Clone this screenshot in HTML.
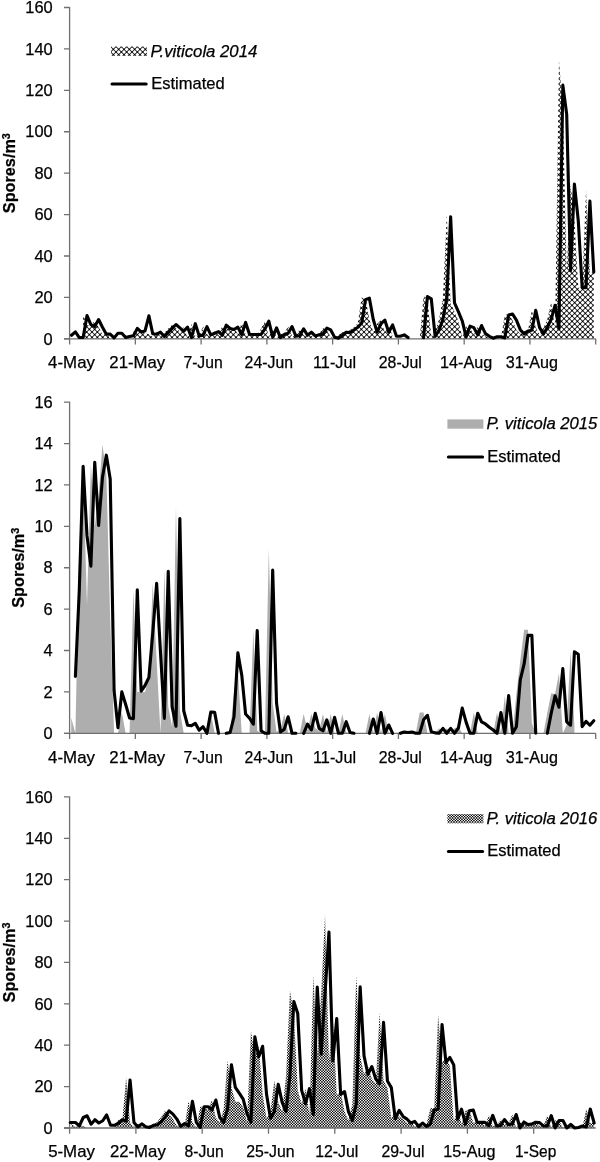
<!DOCTYPE html>
<html><head><meta charset="utf-8"><title>Spores</title>
<style>html,body{margin:0;padding:0;background:#fff}svg{display:block}text{font-family:"Liberation Sans",sans-serif;fill:#000;stroke:#000;stroke-width:0.25px}</style>
</head><body>
<svg width="600" height="1162" viewBox="0 0 600 1162">
<rect width="600" height="1162" fill="#fff"/>
<defs><pattern id="p1" width="16" height="16" patternUnits="userSpaceOnUse"><rect width="16" height="16" fill="#fff"/><rect x="0" y="0" width="1" height="1" fill="#373737"/><rect x="1" y="0" width="1" height="1" fill="#636363"/><rect x="2" y="0" width="1" height="1" fill="#545454"/><rect x="5" y="0" width="1" height="1" fill="#545454"/><rect x="6" y="0" width="1" height="1" fill="#636363"/><rect x="7" y="0" width="1" height="1" fill="#373737"/><rect x="8" y="0" width="1" height="1" fill="#dadada"/><rect x="10" y="0" width="1" height="1" fill="#959595"/><rect x="11" y="0" width="2" height="1" fill="#474747"/><rect x="13" y="0" width="1" height="1" fill="#959595"/><rect x="15" y="0" width="1" height="1" fill="#dadada"/><rect x="0" y="1" width="1" height="1" fill="#636363"/><rect x="1" y="1" width="1" height="1" fill="#000000"/><rect x="2" y="1" width="1" height="1" fill="#bebebe"/><rect x="5" y="1" width="1" height="1" fill="#bebebe"/><rect x="6" y="1" width="1" height="1" fill="#000000"/><rect x="7" y="1" width="1" height="1" fill="#636363"/><rect x="11" y="1" width="2" height="1" fill="#121212"/><rect x="0" y="2" width="1" height="1" fill="#545454"/><rect x="1" y="2" width="1" height="1" fill="#bebebe"/><rect x="2" y="2" width="1" height="1" fill="#3a3a3a"/><rect x="3" y="2" width="2" height="1" fill="#d9d9d9"/><rect x="5" y="2" width="1" height="1" fill="#3a3a3a"/><rect x="6" y="2" width="1" height="1" fill="#bebebe"/><rect x="7" y="2" width="1" height="1" fill="#545454"/><rect x="8" y="2" width="1" height="1" fill="#959595"/><rect x="10" y="2" width="1" height="1" fill="#555555"/><rect x="11" y="2" width="2" height="1" fill="#8f8f8f"/><rect x="13" y="2" width="1" height="1" fill="#555555"/><rect x="15" y="2" width="1" height="1" fill="#959595"/><rect x="2" y="3" width="1" height="1" fill="#d9d9d9"/><rect x="3" y="3" width="2" height="1" fill="#1e1e1e"/><rect x="5" y="3" width="1" height="1" fill="#d9d9d9"/><rect x="8" y="3" width="1" height="1" fill="#474747"/><rect x="9" y="3" width="1" height="1" fill="#121212"/><rect x="10" y="3" width="1" height="1" fill="#8f8f8f"/><rect x="13" y="3" width="1" height="1" fill="#8f8f8f"/><rect x="14" y="3" width="1" height="1" fill="#121212"/><rect x="15" y="3" width="1" height="1" fill="#474747"/><rect x="2" y="4" width="1" height="1" fill="#d9d9d9"/><rect x="3" y="4" width="2" height="1" fill="#1e1e1e"/><rect x="5" y="4" width="1" height="1" fill="#d9d9d9"/><rect x="8" y="4" width="1" height="1" fill="#474747"/><rect x="9" y="4" width="1" height="1" fill="#121212"/><rect x="10" y="4" width="1" height="1" fill="#8f8f8f"/><rect x="13" y="4" width="1" height="1" fill="#8f8f8f"/><rect x="14" y="4" width="1" height="1" fill="#121212"/><rect x="15" y="4" width="1" height="1" fill="#474747"/><rect x="0" y="5" width="1" height="1" fill="#545454"/><rect x="1" y="5" width="1" height="1" fill="#bebebe"/><rect x="2" y="5" width="1" height="1" fill="#3a3a3a"/><rect x="3" y="5" width="2" height="1" fill="#d9d9d9"/><rect x="5" y="5" width="1" height="1" fill="#3a3a3a"/><rect x="6" y="5" width="1" height="1" fill="#bebebe"/><rect x="7" y="5" width="1" height="1" fill="#545454"/><rect x="8" y="5" width="1" height="1" fill="#959595"/><rect x="10" y="5" width="1" height="1" fill="#555555"/><rect x="11" y="5" width="2" height="1" fill="#8f8f8f"/><rect x="13" y="5" width="1" height="1" fill="#555555"/><rect x="15" y="5" width="1" height="1" fill="#959595"/><rect x="0" y="6" width="1" height="1" fill="#636363"/><rect x="1" y="6" width="1" height="1" fill="#000000"/><rect x="2" y="6" width="1" height="1" fill="#bebebe"/><rect x="5" y="6" width="1" height="1" fill="#bebebe"/><rect x="6" y="6" width="1" height="1" fill="#000000"/><rect x="7" y="6" width="1" height="1" fill="#636363"/><rect x="11" y="6" width="2" height="1" fill="#121212"/><rect x="0" y="7" width="1" height="1" fill="#373737"/><rect x="1" y="7" width="1" height="1" fill="#636363"/><rect x="2" y="7" width="1" height="1" fill="#545454"/><rect x="5" y="7" width="1" height="1" fill="#545454"/><rect x="6" y="7" width="1" height="1" fill="#636363"/><rect x="7" y="7" width="1" height="1" fill="#373737"/><rect x="8" y="7" width="1" height="1" fill="#dadada"/><rect x="10" y="7" width="1" height="1" fill="#959595"/><rect x="11" y="7" width="2" height="1" fill="#474747"/><rect x="13" y="7" width="1" height="1" fill="#959595"/><rect x="15" y="7" width="1" height="1" fill="#dadada"/><rect x="0" y="8" width="1" height="1" fill="#dadada"/><rect x="2" y="8" width="1" height="1" fill="#959595"/><rect x="3" y="8" width="2" height="1" fill="#474747"/><rect x="5" y="8" width="1" height="1" fill="#959595"/><rect x="7" y="8" width="1" height="1" fill="#dadada"/><rect x="8" y="8" width="1" height="1" fill="#373737"/><rect x="9" y="8" width="1" height="1" fill="#636363"/><rect x="10" y="8" width="1" height="1" fill="#545454"/><rect x="13" y="8" width="1" height="1" fill="#545454"/><rect x="14" y="8" width="1" height="1" fill="#636363"/><rect x="15" y="8" width="1" height="1" fill="#373737"/><rect x="3" y="9" width="2" height="1" fill="#121212"/><rect x="8" y="9" width="1" height="1" fill="#636363"/><rect x="9" y="9" width="1" height="1" fill="#000000"/><rect x="10" y="9" width="1" height="1" fill="#bebebe"/><rect x="13" y="9" width="1" height="1" fill="#bebebe"/><rect x="14" y="9" width="1" height="1" fill="#000000"/><rect x="15" y="9" width="1" height="1" fill="#636363"/><rect x="0" y="10" width="1" height="1" fill="#959595"/><rect x="2" y="10" width="1" height="1" fill="#555555"/><rect x="3" y="10" width="2" height="1" fill="#8f8f8f"/><rect x="5" y="10" width="1" height="1" fill="#555555"/><rect x="7" y="10" width="1" height="1" fill="#959595"/><rect x="8" y="10" width="1" height="1" fill="#545454"/><rect x="9" y="10" width="1" height="1" fill="#bebebe"/><rect x="10" y="10" width="1" height="1" fill="#3a3a3a"/><rect x="11" y="10" width="2" height="1" fill="#d9d9d9"/><rect x="13" y="10" width="1" height="1" fill="#3a3a3a"/><rect x="14" y="10" width="1" height="1" fill="#bebebe"/><rect x="15" y="10" width="1" height="1" fill="#545454"/><rect x="0" y="11" width="1" height="1" fill="#474747"/><rect x="1" y="11" width="1" height="1" fill="#121212"/><rect x="2" y="11" width="1" height="1" fill="#8f8f8f"/><rect x="5" y="11" width="1" height="1" fill="#8f8f8f"/><rect x="6" y="11" width="1" height="1" fill="#121212"/><rect x="7" y="11" width="1" height="1" fill="#474747"/><rect x="10" y="11" width="1" height="1" fill="#d9d9d9"/><rect x="11" y="11" width="2" height="1" fill="#1e1e1e"/><rect x="13" y="11" width="1" height="1" fill="#d9d9d9"/><rect x="0" y="12" width="1" height="1" fill="#474747"/><rect x="1" y="12" width="1" height="1" fill="#121212"/><rect x="2" y="12" width="1" height="1" fill="#8f8f8f"/><rect x="5" y="12" width="1" height="1" fill="#8f8f8f"/><rect x="6" y="12" width="1" height="1" fill="#121212"/><rect x="7" y="12" width="1" height="1" fill="#474747"/><rect x="10" y="12" width="1" height="1" fill="#d9d9d9"/><rect x="11" y="12" width="2" height="1" fill="#1e1e1e"/><rect x="13" y="12" width="1" height="1" fill="#d9d9d9"/><rect x="0" y="13" width="1" height="1" fill="#959595"/><rect x="2" y="13" width="1" height="1" fill="#555555"/><rect x="3" y="13" width="2" height="1" fill="#8f8f8f"/><rect x="5" y="13" width="1" height="1" fill="#555555"/><rect x="7" y="13" width="1" height="1" fill="#959595"/><rect x="8" y="13" width="1" height="1" fill="#545454"/><rect x="9" y="13" width="1" height="1" fill="#bebebe"/><rect x="10" y="13" width="1" height="1" fill="#3a3a3a"/><rect x="11" y="13" width="2" height="1" fill="#d9d9d9"/><rect x="13" y="13" width="1" height="1" fill="#3a3a3a"/><rect x="14" y="13" width="1" height="1" fill="#bebebe"/><rect x="15" y="13" width="1" height="1" fill="#545454"/><rect x="3" y="14" width="2" height="1" fill="#121212"/><rect x="8" y="14" width="1" height="1" fill="#636363"/><rect x="9" y="14" width="1" height="1" fill="#000000"/><rect x="10" y="14" width="1" height="1" fill="#bebebe"/><rect x="13" y="14" width="1" height="1" fill="#bebebe"/><rect x="14" y="14" width="1" height="1" fill="#000000"/><rect x="15" y="14" width="1" height="1" fill="#636363"/><rect x="0" y="15" width="1" height="1" fill="#dadada"/><rect x="2" y="15" width="1" height="1" fill="#959595"/><rect x="3" y="15" width="2" height="1" fill="#474747"/><rect x="5" y="15" width="1" height="1" fill="#959595"/><rect x="7" y="15" width="1" height="1" fill="#dadada"/><rect x="8" y="15" width="1" height="1" fill="#373737"/><rect x="9" y="15" width="1" height="1" fill="#636363"/><rect x="10" y="15" width="1" height="1" fill="#545454"/><rect x="13" y="15" width="1" height="1" fill="#545454"/><rect x="14" y="15" width="1" height="1" fill="#636363"/><rect x="15" y="15" width="1" height="1" fill="#373737"/></pattern><pattern id="p3" width="8" height="8" patternUnits="userSpaceOnUse"><rect x="0" y="0" width="1" height="1" fill="#000000"/><rect x="1" y="0" width="1" height="1" fill="#cecece"/><rect x="2" y="0" width="1" height="1" fill="#bababa"/><rect x="3" y="0" width="1" height="1" fill="#000000"/><rect x="4" y="0" width="1" height="1" fill="#ffffff"/><rect x="5" y="0" width="1" height="1" fill="#313131"/><rect x="6" y="0" width="1" height="1" fill="#454545"/><rect x="7" y="0" width="1" height="1" fill="#ffffff"/><rect x="0" y="1" width="1" height="1" fill="#cecece"/><rect x="1" y="1" width="1" height="1" fill="#525252"/><rect x="2" y="1" width="1" height="1" fill="#5d5d5d"/><rect x="3" y="1" width="1" height="1" fill="#cacaca"/><rect x="4" y="1" width="1" height="1" fill="#313131"/><rect x="5" y="1" width="1" height="1" fill="#adadad"/><rect x="6" y="1" width="1" height="1" fill="#a2a2a2"/><rect x="7" y="1" width="1" height="1" fill="#353535"/><rect x="0" y="2" width="1" height="1" fill="#bababa"/><rect x="1" y="2" width="1" height="1" fill="#5d5d5d"/><rect x="2" y="2" width="1" height="1" fill="#666666"/><rect x="3" y="2" width="1" height="1" fill="#b7b7b7"/><rect x="4" y="2" width="1" height="1" fill="#454545"/><rect x="5" y="2" width="1" height="1" fill="#a2a2a2"/><rect x="6" y="2" width="1" height="1" fill="#999999"/><rect x="7" y="2" width="1" height="1" fill="#484848"/><rect x="0" y="3" width="1" height="1" fill="#000000"/><rect x="1" y="3" width="1" height="1" fill="#cacaca"/><rect x="2" y="3" width="1" height="1" fill="#b7b7b7"/><rect x="3" y="3" width="1" height="1" fill="#040404"/><rect x="4" y="3" width="1" height="1" fill="#ffffff"/><rect x="5" y="3" width="1" height="1" fill="#353535"/><rect x="6" y="3" width="1" height="1" fill="#484848"/><rect x="7" y="3" width="1" height="1" fill="#fbfbfb"/><rect x="0" y="4" width="1" height="1" fill="#ffffff"/><rect x="1" y="4" width="1" height="1" fill="#313131"/><rect x="2" y="4" width="1" height="1" fill="#454545"/><rect x="3" y="4" width="1" height="1" fill="#ffffff"/><rect x="4" y="4" width="1" height="1" fill="#000000"/><rect x="5" y="4" width="1" height="1" fill="#cecece"/><rect x="6" y="4" width="1" height="1" fill="#bababa"/><rect x="7" y="4" width="1" height="1" fill="#000000"/><rect x="0" y="5" width="1" height="1" fill="#313131"/><rect x="1" y="5" width="1" height="1" fill="#adadad"/><rect x="2" y="5" width="1" height="1" fill="#a2a2a2"/><rect x="3" y="5" width="1" height="1" fill="#353535"/><rect x="4" y="5" width="1" height="1" fill="#cecece"/><rect x="5" y="5" width="1" height="1" fill="#525252"/><rect x="6" y="5" width="1" height="1" fill="#5d5d5d"/><rect x="7" y="5" width="1" height="1" fill="#cacaca"/><rect x="0" y="6" width="1" height="1" fill="#454545"/><rect x="1" y="6" width="1" height="1" fill="#a2a2a2"/><rect x="2" y="6" width="1" height="1" fill="#999999"/><rect x="3" y="6" width="1" height="1" fill="#484848"/><rect x="4" y="6" width="1" height="1" fill="#bababa"/><rect x="5" y="6" width="1" height="1" fill="#5d5d5d"/><rect x="6" y="6" width="1" height="1" fill="#666666"/><rect x="7" y="6" width="1" height="1" fill="#b7b7b7"/><rect x="0" y="7" width="1" height="1" fill="#ffffff"/><rect x="1" y="7" width="1" height="1" fill="#353535"/><rect x="2" y="7" width="1" height="1" fill="#484848"/><rect x="3" y="7" width="1" height="1" fill="#fbfbfb"/><rect x="4" y="7" width="1" height="1" fill="#000000"/><rect x="5" y="7" width="1" height="1" fill="#cacaca"/><rect x="6" y="7" width="1" height="1" fill="#b7b7b7"/><rect x="7" y="7" width="1" height="1" fill="#040404"/></pattern></defs>
<polygon points="83.14,338.80 83.14,315.19 87.01,324.51 90.88,326.58 94.74,319.75 98.61,327.20 102.48,334.14 106.35,334.14 110.22,337.87 110.22,338.80" fill="url(#p1)"/>
<polygon points="133.43,338.80 133.43,331.14 137.30,331.97 141.17,330.93 145.03,333.62 148.90,334.24 152.77,336.73 156.64,332.17 160.51,336.52 164.38,332.59 168.24,328.45 172.11,324.51 175.98,327.83 179.85,331.14 183.72,327.20 187.59,337.56 191.45,323.68 195.32,335.90 199.19,335.28 203.06,326.58 206.93,334.87 210.80,333.21 214.66,331.55 218.53,335.28 222.40,325.13 226.27,328.45 230.14,329.48 234.01,327.20 237.87,334.45 241.74,322.44 245.61,334.24 249.48,334.45 253.35,334.45 257.22,334.45 261.08,328.86 264.95,321.20 268.82,337.14 272.69,327.83 276.56,337.56 280.43,334.45 284.30,333.21 288.16,326.58 292.03,336.11 295.90,335.69 299.77,328.86 303.64,335.28 307.51,332.17 311.37,335.90 315.24,334.87 319.11,334.24 322.98,328.03 326.85,329.90 330.72,337.14 334.58,338.18 338.45,335.28 342.32,332.17 346.19,332.59 350.06,329.90 353.93,327.20 357.79,323.27 361.66,297.59 365.53,298.22 369.40,319.54 373.27,332.17 377.14,323.68 381.00,320.16 384.87,332.17 388.74,324.93 392.61,336.32 392.61,338.80" fill="url(#p1)"/>
<polygon points="419.69,338.80 419.69,338.80 423.56,296.35 427.43,298.84 431.29,336.32 435.16,330.31 439.03,319.54 442.90,298.22 446.77,214.56 450.64,302.98 454.50,311.67 458.37,320.99 462.24,336.94 466.11,326.17 469.98,327.62 473.85,334.87 477.71,325.55 481.58,333.62 485.45,336.32 489.32,338.18 493.19,336.73 497.06,336.73 500.92,337.97 504.79,314.99 508.66,313.95 512.53,320.16 516.40,329.69 520.27,334.04 524.13,330.93 528.00,330.31 531.87,310.23 535.74,327.62 539.61,334.04 543.48,327.41 547.35,319.13 551.21,301.94 555.08,328.86 558.95,60.30 562.82,108.96 566.69,270.68 570.56,184.12 574.42,220.77 578.29,287.66 582.16,287.66 586.03,189.72 589.90,272.54 593.77,272.54 593.77,338.80" fill="url(#p1)"/>
<path d="M69.60 7.00 V344.60 M64.00 338.80 H595.70" stroke="#707070" stroke-width="1.3" fill="none"/>
<text x="52.7" y="344.50" text-anchor="end" font-size="16.1" textLength="9.1" lengthAdjust="spacingAndGlyphs">0</text>
<text x="52.7" y="303.09" text-anchor="end" font-size="16.1" textLength="18.3" lengthAdjust="spacingAndGlyphs">20</text>
<text x="52.7" y="261.68" text-anchor="end" font-size="16.1" textLength="18.3" lengthAdjust="spacingAndGlyphs">40</text>
<text x="52.7" y="220.26" text-anchor="end" font-size="16.1" textLength="18.3" lengthAdjust="spacingAndGlyphs">60</text>
<text x="52.7" y="178.85" text-anchor="end" font-size="16.1" textLength="18.3" lengthAdjust="spacingAndGlyphs">80</text>
<text x="52.7" y="137.44" text-anchor="end" font-size="16.1" textLength="27.4" lengthAdjust="spacingAndGlyphs">100</text>
<text x="52.7" y="96.02" text-anchor="end" font-size="16.1" textLength="27.4" lengthAdjust="spacingAndGlyphs">120</text>
<text x="52.7" y="54.61" text-anchor="end" font-size="16.1" textLength="27.4" lengthAdjust="spacingAndGlyphs">140</text>
<text x="52.7" y="13.20" text-anchor="end" font-size="16.1" textLength="27.4" lengthAdjust="spacingAndGlyphs">160</text>
<path d="M64.00 338.80H69.60M64.00 297.39H69.60M64.00 255.98H69.60M64.00 214.56H69.60M64.00 173.15H69.60M64.00 131.74H69.60M64.00 90.32H69.60M64.00 48.91H69.60M64.00 7.50H69.60M135.36 338.80V344.60M201.12 338.80V344.60M266.89 338.80V344.60M332.65 338.80V344.60M398.41 338.80V344.60M464.18 338.80V344.60M529.94 338.80V344.60M595.70 338.80V344.60" stroke="#707070" stroke-width="1.3" fill="none"/>
<text x="71.53" y="368.10" text-anchor="middle" font-size="16.1" textLength="46.8" lengthAdjust="spacingAndGlyphs">4-May</text>
<text x="137.30" y="368.10" text-anchor="middle" font-size="16.1" textLength="55.9" lengthAdjust="spacingAndGlyphs">21-May</text>
<text x="203.06" y="368.10" text-anchor="middle" font-size="16.1" textLength="39.3" lengthAdjust="spacingAndGlyphs">7-Jun</text>
<text x="268.82" y="368.10" text-anchor="middle" font-size="16.1" textLength="48.4" lengthAdjust="spacingAndGlyphs">24-Jun</text>
<text x="334.58" y="368.10" text-anchor="middle" font-size="16.1" textLength="43.1" lengthAdjust="spacingAndGlyphs">11-Jul</text>
<text x="400.35" y="368.10" text-anchor="middle" font-size="16.1" textLength="43.1" lengthAdjust="spacingAndGlyphs">28-Jul</text>
<text x="466.11" y="368.10" text-anchor="middle" font-size="16.1" textLength="52.1" lengthAdjust="spacingAndGlyphs">14-Aug</text>
<text x="531.87" y="368.10" text-anchor="middle" font-size="16.1" textLength="52.1" lengthAdjust="spacingAndGlyphs">31-Aug</text>
<path d="M71.53 335.28L75.40 331.86L79.27 337.56L83.14 337.56L87.01 315.61L90.88 324.51L94.74 326.58L98.61 319.54L102.48 327.20L106.35 334.14L110.22 334.14L114.09 337.87L117.95 333.21L121.82 333.21L125.69 337.56L129.56 336.52L133.43 335.69L137.30 328.45L141.17 331.97L145.03 330.93L148.90 315.82L152.77 333.83L156.64 334.24L160.51 332.17L164.38 336.52L168.24 332.59L172.11 328.45L175.98 324.51L179.85 327.83L183.72 331.14L187.59 327.20L191.45 337.56L195.32 323.68L199.19 335.90L203.06 335.28L206.93 326.58L210.80 334.87L214.66 333.21L218.53 331.55L222.40 335.28L226.27 325.13L230.14 328.45L234.01 329.48L237.87 327.20L241.74 334.45L245.61 322.44L249.48 334.24L253.35 334.45L257.22 334.45L261.08 334.45L264.95 328.86L268.82 321.20L272.69 337.14L276.56 327.83L280.43 337.56L284.30 334.45L288.16 333.21L292.03 326.58L295.90 336.11L299.77 335.69L303.64 328.86L307.51 335.28L311.37 332.17L315.24 335.90L319.11 334.87L322.98 334.24L326.85 328.03L330.72 329.90L334.58 337.14L338.45 338.18L342.32 335.28L346.19 332.17L350.06 332.59L353.93 329.90L357.79 327.20L361.66 323.27L365.53 299.67L369.40 298.22L373.27 319.54L377.14 332.17L381.00 323.68L384.87 320.16L388.74 332.17L392.61 324.93L396.48 336.32L400.35 336.32L404.22 334.87L408.08 337.56M423.56 337.76L427.43 296.56L431.29 298.84L435.16 336.32L439.03 330.31L442.90 319.54L446.77 298.22L450.64 216.84L454.50 302.98L458.37 311.67L462.24 320.99L466.11 336.94L469.98 326.17L473.85 327.62L477.71 334.87L481.58 325.55L485.45 333.62L489.32 336.32L493.19 338.18L497.06 336.73L500.92 336.73L504.79 337.97L508.66 314.99L512.53 313.95L516.40 320.16L520.27 329.69L524.13 334.04L528.00 330.93L531.87 330.31L535.74 310.23L539.61 327.62L543.48 334.04L547.35 327.41L551.21 319.13L555.08 305.26L558.95 328.86L562.82 85.15L566.69 114.14L570.56 270.68L574.42 184.12L578.29 220.77L582.16 287.66L586.03 287.66L589.90 201.10L593.77 272.13" stroke="#000" stroke-width="3.1" fill="none" stroke-linejoin="round" stroke-linecap="round"/>
<text transform="translate(15.2 173.15) rotate(-90)" text-anchor="middle" font-weight="bold" stroke="none" font-size="16.6" textLength="80" lengthAdjust="spacingAndGlyphs">Spores/m<tspan font-size="11" dy="-5.5">3</tspan></text>
<rect x="111.00" y="46.60" width="36" height="9.3" fill="url(#p1)"/>
<text x="150.60" y="56.60" font-style="italic" font-size="16.1" textLength="106.7" lengthAdjust="spacingAndGlyphs">P.viticola 2014</text>
<path d="M112.00 84.10H146.20" stroke="#000" stroke-width="3.0" stroke-linecap="round"/>
<text x="151.20" y="88.90" font-size="16.1" textLength="73.4" lengthAdjust="spacingAndGlyphs">Estimated</text>
<polygon points="71.20,733.30 71.20,717.78 75.40,733.30 79.27,547.06 83.14,472.56 87.01,605.00 90.88,464.28 94.74,526.36 98.61,495.32 102.48,444.62 106.35,474.63 110.22,619.48 114.09,733.30 117.95,733.30 121.82,712.61 125.69,733.30 129.56,733.30 133.43,589.89 137.30,691.91 141.17,691.91 145.03,691.91 148.90,677.43 152.77,583.27 156.64,660.87 160.51,733.30 164.38,569.82 168.24,706.40 172.11,727.09 175.98,506.08 179.85,710.54 183.72,733.30 187.59,733.30 191.45,733.30 195.32,733.30 199.19,733.30 203.06,733.30 206.93,733.30 210.80,712.40 214.66,733.30 218.53,733.30 222.40,733.30 226.27,732.47 230.14,733.30 234.01,691.91 237.87,671.22 241.74,733.30 245.61,733.30 249.48,733.30 253.35,630.66 257.22,730.82 261.08,733.30 264.95,733.30 268.82,547.88 272.69,703.29 276.56,732.06 280.43,729.16 284.30,714.05 288.16,733.30 292.03,733.30 295.90,733.30 299.77,733.30 303.64,714.05 307.51,729.99 311.37,713.64 315.24,728.33 319.11,730.82 322.98,714.05 326.85,733.30 330.72,714.05 334.58,733.30 338.45,733.30 342.32,714.05 346.19,732.47 350.06,733.30 353.93,733.30 357.79,733.30 361.66,733.30 365.53,733.30 369.40,714.05 373.27,733.30 377.14,712.61 381.00,733.30 384.87,714.05 388.74,733.30 392.61,733.30 396.48,733.30 400.35,732.06 404.22,732.47 408.08,732.06 411.95,733.30 415.82,733.30 419.69,712.61 423.56,712.61 427.43,733.30 431.29,732.89 435.16,733.30 439.03,728.33 442.90,733.30 446.77,728.33 450.64,733.30 454.50,728.13 458.37,727.09 462.24,733.30 466.11,733.30 469.98,733.30 473.85,712.61 477.71,733.30 481.58,733.30 485.45,733.30 489.32,733.30 493.19,733.30 497.06,712.61 500.92,733.30 504.79,695.64 508.66,733.30 512.53,733.30 516.40,693.98 520.27,660.87 524.13,629.83 528.00,629.83 531.87,722.95 535.74,733.30 539.61,733.30 543.48,733.30 547.35,712.61 551.21,693.15 555.08,693.98 558.95,673.29 562.82,733.30 566.69,725.02 570.56,651.56 574.42,727.09 574.42,733.30" fill="#aeaeae"/>
<path d="M69.60 401.70 V739.10 M64.00 733.30 H595.70" stroke="#707070" stroke-width="1.3" fill="none"/>
<text x="52.7" y="739.00" text-anchor="end" font-size="16.1" textLength="9.1" lengthAdjust="spacingAndGlyphs">0</text>
<text x="52.7" y="697.61" text-anchor="end" font-size="16.1" textLength="9.1" lengthAdjust="spacingAndGlyphs">2</text>
<text x="52.7" y="656.23" text-anchor="end" font-size="16.1" textLength="9.1" lengthAdjust="spacingAndGlyphs">4</text>
<text x="52.7" y="614.84" text-anchor="end" font-size="16.1" textLength="9.1" lengthAdjust="spacingAndGlyphs">6</text>
<text x="52.7" y="573.45" text-anchor="end" font-size="16.1" textLength="9.1" lengthAdjust="spacingAndGlyphs">8</text>
<text x="52.7" y="532.06" text-anchor="end" font-size="16.1" textLength="18.3" lengthAdjust="spacingAndGlyphs">10</text>
<text x="52.7" y="490.67" text-anchor="end" font-size="16.1" textLength="18.3" lengthAdjust="spacingAndGlyphs">12</text>
<text x="52.7" y="449.29" text-anchor="end" font-size="16.1" textLength="18.3" lengthAdjust="spacingAndGlyphs">14</text>
<text x="52.7" y="407.90" text-anchor="end" font-size="16.1" textLength="18.3" lengthAdjust="spacingAndGlyphs">16</text>
<path d="M64.00 733.30H69.60M64.00 691.91H69.60M64.00 650.52H69.60M64.00 609.14H69.60M64.00 567.75H69.60M64.00 526.36H69.60M64.00 484.97H69.60M64.00 443.59H69.60M64.00 402.20H69.60M135.36 733.30V739.10M201.12 733.30V739.10M266.89 733.30V739.10M332.65 733.30V739.10M398.41 733.30V739.10M464.18 733.30V739.10M529.94 733.30V739.10M595.70 733.30V739.10" stroke="#707070" stroke-width="1.3" fill="none"/>
<text x="71.53" y="762.60" text-anchor="middle" font-size="16.1" textLength="46.8" lengthAdjust="spacingAndGlyphs">4-May</text>
<text x="137.30" y="762.60" text-anchor="middle" font-size="16.1" textLength="55.9" lengthAdjust="spacingAndGlyphs">21-May</text>
<text x="203.06" y="762.60" text-anchor="middle" font-size="16.1" textLength="39.3" lengthAdjust="spacingAndGlyphs">7-Jun</text>
<text x="268.82" y="762.60" text-anchor="middle" font-size="16.1" textLength="48.4" lengthAdjust="spacingAndGlyphs">24-Jun</text>
<text x="334.58" y="762.60" text-anchor="middle" font-size="16.1" textLength="43.1" lengthAdjust="spacingAndGlyphs">11-Jul</text>
<text x="400.35" y="762.60" text-anchor="middle" font-size="16.1" textLength="43.1" lengthAdjust="spacingAndGlyphs">28-Jul</text>
<text x="466.11" y="762.60" text-anchor="middle" font-size="16.1" textLength="52.1" lengthAdjust="spacingAndGlyphs">14-Aug</text>
<text x="531.87" y="762.60" text-anchor="middle" font-size="16.1" textLength="52.1" lengthAdjust="spacingAndGlyphs">31-Aug</text>
<path d="M75.40 676.39L79.27 590.51L83.14 466.35L87.01 535.88L90.88 566.09L94.74 462.21L98.61 525.53L102.48 477.32L106.35 455.18L110.22 478.97L114.09 690.67L117.95 727.71L121.82 691.91L125.69 704.54L129.56 717.99L133.43 718.61L137.30 589.89L141.17 691.08L145.03 685.50L148.90 677.43L152.77 632.94L156.64 583.27L160.51 652.59L164.38 718.40L168.24 571.27L172.11 706.61L175.98 726.26L179.85 518.50L183.72 710.74L187.59 725.23L191.45 725.64L195.32 723.37L199.19 730.20L203.06 726.68L206.93 733.30L210.80 711.99L214.66 712.40L218.53 733.30M226.27 733.30L230.14 732.47L234.01 716.75L237.87 652.80L241.74 674.94L245.61 714.05L249.48 718.19L253.35 724.19L257.22 630.66L261.08 730.82L264.95 733.30L268.82 733.30L272.69 570.03L276.56 703.29L280.43 732.06L284.30 729.16L288.16 716.75L292.03 733.30L295.90 733.30M303.64 733.30L307.51 724.19L311.37 729.99L315.24 713.23L319.11 728.33L322.98 730.82L326.85 719.85L330.72 733.30L334.58 717.37L338.45 733.30L342.32 733.30L346.19 721.71L350.06 732.47L353.93 733.30M369.40 733.30L373.27 719.02L377.14 733.30L381.00 712.61L384.87 733.30L388.74 725.02L392.61 733.30M400.35 733.30L404.22 732.06L408.08 732.47L411.95 732.06L415.82 733.30L419.69 733.30L423.56 719.85L427.43 715.30L431.29 731.64L435.16 732.89L439.03 733.30L442.90 728.33L446.77 733.30L450.64 728.33L454.50 733.30L458.37 728.13L462.24 708.05L466.11 722.13L469.98 733.30L473.85 733.30L477.71 713.23L481.58 721.92L485.45 723.99L489.32 727.30L493.19 729.99L497.06 733.30L500.92 712.61L504.79 733.30L508.66 695.64L512.53 733.30L516.40 726.68L520.27 679.91L524.13 663.98L528.00 635.42L531.87 635.42L535.74 733.30M547.35 733.30L551.21 713.23L555.08 695.84L558.95 707.23L562.82 668.53L566.69 721.92L570.56 725.23L574.42 651.77L578.29 654.25L582.16 726.68L586.03 721.30L589.90 725.23L593.77 720.68" stroke="#000" stroke-width="3.1" fill="none" stroke-linejoin="round" stroke-linecap="round"/>
<text transform="translate(24.3 567.75) rotate(-90)" text-anchor="middle" font-weight="bold" stroke="none" font-size="16.6" textLength="80" lengthAdjust="spacingAndGlyphs">Spores/m<tspan font-size="11" dy="-5.5">3</tspan></text>
<rect x="447.40" y="419.40" width="36" height="9.3" fill="#aeaeae"/>
<text x="486.60" y="429.40" font-style="italic" font-size="16.1" textLength="110.7" lengthAdjust="spacingAndGlyphs">P. viticola 2015</text>
<path d="M448.40 456.90H482.60" stroke="#000" stroke-width="3.0" stroke-linecap="round"/>
<text x="487.20" y="461.70" font-size="16.1" textLength="73.4" lengthAdjust="spacingAndGlyphs">Estimated</text>
<polygon points="71.55,1128.00 71.55,1123.86 75.45,1126.97 79.35,1124.90 83.25,1125.93 87.15,1128.00 91.05,1128.00 94.95,1128.00 98.85,1128.00 102.75,1128.00 106.65,1128.00 110.55,1128.00 114.45,1128.00 118.35,1119.72 122.25,1121.17 126.15,1077.51 130.05,1122.41 133.95,1126.97 137.85,1123.86 141.75,1126.65 145.65,1127.48 149.55,1125.31 153.45,1124.69 157.35,1121.67 161.25,1117.03 165.15,1110.82 169.05,1114.14 172.95,1119.10 176.85,1126.34 180.75,1123.65 184.65,1125.83 188.55,1100.89 192.45,1122.41 196.35,1127.48 200.25,1106.69 204.15,1106.69 208.05,1110.00 211.95,1100.06 215.85,1117.45 219.75,1122.41 223.65,1109.17 227.55,1060.75 231.45,1087.44 235.35,1101.72 239.25,1101.72 243.15,1107.31 247.05,1121.79 250.95,1030.95 254.85,1056.81 258.75,1046.26 262.65,1094.27 266.55,1118.27 270.45,1111.65 274.35,1080.40 278.25,1102.34 282.15,1111.65 286.05,1075.64 289.95,990.80 293.85,1013.56 297.75,1090.34 301.65,1103.58 305.55,1088.68 309.45,1114.55 313.35,975.28 317.25,1054.12 321.15,993.49 325.05,914.85 328.95,1060.75 332.85,1018.53 336.75,1094.89 340.65,1091.58 344.55,1111.65 348.45,1120.34 352.35,1104.00 356.25,975.28 360.15,1055.99 364.05,1074.20 367.95,1066.54 371.85,1078.96 375.75,1083.72 379.65,1012.74 383.55,1081.03 387.45,1087.65 391.35,1118.48 395.25,1110.41 399.15,1116.41 403.05,1119.10 406.95,1123.03 410.85,1121.38 414.75,1126.65 418.65,1123.03 422.55,1126.34 426.45,1124.17 430.35,1108.34 434.25,1108.34 438.15,1014.81 442.05,1062.40 445.95,1057.43 449.85,1065.92 453.75,1121.79 457.65,1109.17 461.55,1124.17 465.45,1110.82 469.35,1110.00 473.25,1122.41 477.15,1122.41 481.05,1122.41 484.95,1125.72 488.85,1115.38 492.75,1125.93 496.65,1125.52 500.55,1119.52 504.45,1124.48 508.35,1124.07 512.25,1114.55 516.15,1128.00 520.05,1122.00 523.95,1124.48 527.85,1124.07 531.75,1122.21 535.65,1122.62 539.55,1125.93 543.45,1125.93 547.35,1115.58 551.25,1128.00 555.15,1120.55 559.05,1120.55 562.95,1128.00 566.85,1124.48 570.75,1128.00 574.65,1127.48 578.55,1125.93 582.45,1126.97 586.35,1108.96 590.25,1123.03 594.15,1123.03 594.15,1128.00" fill="url(#p3)"/>
<path d="M69.60 796.40 V1133.80 M64.00 1128.00 H595.70" stroke="#707070" stroke-width="1.3" fill="none"/>
<text x="52.7" y="1133.70" text-anchor="end" font-size="16.1" textLength="9.1" lengthAdjust="spacingAndGlyphs">0</text>
<text x="52.7" y="1092.31" text-anchor="end" font-size="16.1" textLength="18.3" lengthAdjust="spacingAndGlyphs">20</text>
<text x="52.7" y="1050.92" text-anchor="end" font-size="16.1" textLength="18.3" lengthAdjust="spacingAndGlyphs">40</text>
<text x="52.7" y="1009.54" text-anchor="end" font-size="16.1" textLength="18.3" lengthAdjust="spacingAndGlyphs">60</text>
<text x="52.7" y="968.15" text-anchor="end" font-size="16.1" textLength="18.3" lengthAdjust="spacingAndGlyphs">80</text>
<text x="52.7" y="926.76" text-anchor="end" font-size="16.1" textLength="27.4" lengthAdjust="spacingAndGlyphs">100</text>
<text x="52.7" y="885.38" text-anchor="end" font-size="16.1" textLength="27.4" lengthAdjust="spacingAndGlyphs">120</text>
<text x="52.7" y="843.99" text-anchor="end" font-size="16.1" textLength="27.4" lengthAdjust="spacingAndGlyphs">140</text>
<text x="52.7" y="802.60" text-anchor="end" font-size="16.1" textLength="27.4" lengthAdjust="spacingAndGlyphs">160</text>
<path d="M64.00 1128.00H69.60M64.00 1086.61H69.60M64.00 1045.22H69.60M64.00 1003.84H69.60M64.00 962.45H69.60M64.00 921.06H69.60M64.00 879.67H69.60M64.00 838.29H69.60M64.00 796.90H69.60M135.90 1128.00V1133.80M202.20 1128.00V1133.80M268.50 1128.00V1133.80M334.80 1128.00V1133.80M401.10 1128.00V1133.80M467.40 1128.00V1133.80M533.70 1128.00V1133.80" stroke="#707070" stroke-width="1.3" fill="none"/>
<text x="71.55" y="1157.30" text-anchor="middle" font-size="16.1" textLength="46.8" lengthAdjust="spacingAndGlyphs">5-May</text>
<text x="137.85" y="1157.30" text-anchor="middle" font-size="16.1" textLength="55.9" lengthAdjust="spacingAndGlyphs">22-May</text>
<text x="204.15" y="1157.30" text-anchor="middle" font-size="16.1" textLength="39.3" lengthAdjust="spacingAndGlyphs">8-Jun</text>
<text x="270.45" y="1157.30" text-anchor="middle" font-size="16.1" textLength="48.4" lengthAdjust="spacingAndGlyphs">25-Jun</text>
<text x="336.75" y="1157.30" text-anchor="middle" font-size="16.1" textLength="43.1" lengthAdjust="spacingAndGlyphs">12-Jul</text>
<text x="403.05" y="1157.30" text-anchor="middle" font-size="16.1" textLength="43.1" lengthAdjust="spacingAndGlyphs">29-Jul</text>
<text x="469.35" y="1157.30" text-anchor="middle" font-size="16.1" textLength="52.1" lengthAdjust="spacingAndGlyphs">15-Aug</text>
<text x="535.65" y="1157.30" text-anchor="middle" font-size="16.1" textLength="41.3" lengthAdjust="spacingAndGlyphs">1-Sep</text>
<path d="M70.20 1122.50L71.55 1122.50L75.45 1122.50L79.35 1125.83L83.25 1117.49L87.15 1115.79L91.05 1124.17L94.95 1119.72L98.85 1123.03L102.75 1120.76L106.65 1114.96L110.55 1125.31L114.45 1125.31L118.35 1123.24L122.25 1119.72L126.15 1121.17L130.05 1079.99L133.95 1122.41L137.85 1126.97L141.75 1123.86L145.65 1126.65L149.55 1127.48L153.45 1125.31L157.35 1124.69L161.25 1121.67L165.15 1117.03L169.05 1110.82L172.95 1114.14L176.85 1119.10L180.75 1126.34L184.65 1123.65L188.55 1125.83L192.45 1101.31L196.35 1122.41L200.25 1127.48L204.15 1106.69L208.05 1106.69L211.95 1110.00L215.85 1100.06L219.75 1117.45L223.65 1122.41L227.55 1109.17L231.45 1064.68L235.35 1087.44L239.25 1093.23L243.15 1099.03L247.05 1113.93L250.95 1122.41L254.85 1036.74L258.75 1056.81L262.65 1046.26L266.55 1094.27L270.45 1118.27L274.35 1111.65L278.25 1084.34L282.15 1102.34L286.05 1111.65L289.95 1075.64L293.85 1001.56L297.75 1013.56L301.65 1090.34L305.55 1103.58L309.45 1088.68L313.35 1114.55L317.25 987.08L321.15 1054.12L325.05 993.49L328.95 932.03L332.85 1060.75L336.75 1018.53L340.65 1094.48L344.55 1091.58L348.45 1111.65L352.35 1120.34L356.25 1104.00L360.15 986.87L364.05 1055.99L367.95 1074.20L371.85 1066.54L375.75 1078.96L379.65 1083.72L383.55 1022.25L387.45 1081.03L391.35 1087.65L395.25 1118.48L399.15 1110.41L403.05 1116.41L406.95 1119.10L410.85 1123.03L414.75 1121.38L418.65 1126.65L422.55 1123.03L426.45 1126.34L430.35 1124.17L434.25 1110.00L438.15 1109.17L442.05 1024.53L445.95 1062.40L449.85 1057.43L453.75 1064.88L457.65 1119.10L461.55 1109.17L465.45 1124.17L469.35 1110.82L473.25 1110.00L477.15 1122.41L481.05 1122.41L484.95 1122.41L488.85 1125.72L492.75 1115.38L496.65 1125.93L500.55 1125.52L504.45 1119.52L508.35 1124.48L512.25 1124.07L516.15 1114.55L520.05 1128.00L523.95 1122.00L527.85 1124.48L531.75 1124.07L535.65 1122.21L539.55 1122.62L543.45 1125.93L547.35 1125.93L551.25 1115.58L555.15 1128.00L559.05 1120.55L562.95 1120.55L566.85 1128.00L570.75 1124.48L574.65 1128.00L578.55 1127.48L582.45 1125.93L586.35 1126.97L590.25 1108.96L594.15 1123.03" stroke="#000" stroke-width="3.1" fill="none" stroke-linejoin="round" stroke-linecap="round"/>
<text transform="translate(15.2 962.45) rotate(-90)" text-anchor="middle" font-weight="bold" stroke="none" font-size="16.6" textLength="80" lengthAdjust="spacingAndGlyphs">Spores/m<tspan font-size="11" dy="-5.5">3</tspan></text>
<rect x="447.40" y="814.00" width="36" height="9.3" fill="url(#p3)"/>
<text x="486.60" y="824.00" font-style="italic" font-size="16.1" textLength="110.7" lengthAdjust="spacingAndGlyphs">P. viticola 2016</text>
<path d="M448.40 851.50H482.60" stroke="#000" stroke-width="3.0" stroke-linecap="round"/>
<text x="487.20" y="856.30" font-size="16.1" textLength="73.4" lengthAdjust="spacingAndGlyphs">Estimated</text>
</svg>
</body></html>
